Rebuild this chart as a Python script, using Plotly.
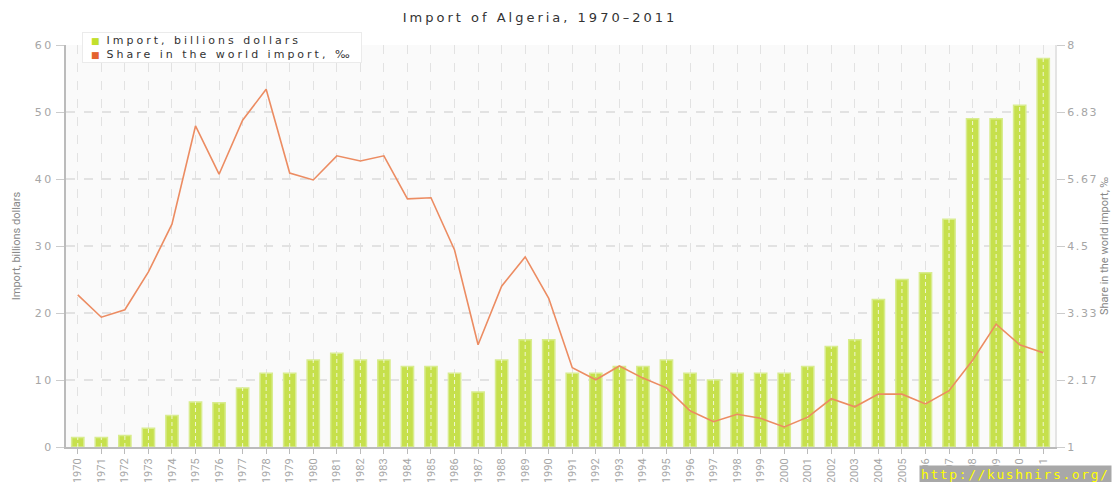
import plotly.graph_objects as go

years = list(range(1970, 2012))
import_bn = [1.4, 1.4, 1.7, 2.8, 4.7, 6.7, 6.6, 8.8, 11, 11,
             13, 14, 13, 13, 12, 12, 11, 8.2, 13, 16,
             16, 11, 11, 12, 12, 13, 11, 10, 11, 11,
             11, 12, 15, 16, 22, 25, 26, 34, 49, 49,
             51, 58]
share_permille = [3.65, 3.26, 3.39, 4.05, 4.88, 6.59, 5.75, 6.69, 7.23, 5.77,
                  5.65, 6.07, 5.98, 6.07, 5.32, 5.34, 4.43, 2.78, 3.80, 4.31,
                  3.59, 2.38, 2.17, 2.41, 2.20, 2.03, 1.63, 1.44, 1.57, 1.50,
                  1.35, 1.52, 1.84, 1.70, 1.92, 1.92, 1.75, 1.98, 2.51, 3.14,
                  2.78, 2.64]
left_ticks = [0, 10, 20, 30, 40, 50, 60]
right_ticks = [1, 2.1667, 3.3333, 4.5, 5.6667, 6.8333, 8]
right_labels = ["1", "2.17", "3.33", "4.5", "5.67", "6.83", "8"]

title_text = "Import of Algeria, 1970–2011"
name_bar = "Import, billions dollars"
name_line = "Share in the world import, ‰"
watermark = "http://kushnirs.org/"


def spaced(s, px):
    return '<span style="letter-spacing:%spx">%s</span>' % (px, s)


GREEN = "#c6e04c"
ORANGE = "#ec8c62"
LEG_GREEN = "#c2e02c"
LEG_ORANGE = "#e4632e"
GRID = "#e2e2e2"
TICKC = "#a6a6a6"
narrow = "Liberation Sans Narrow, Roboto, sans-serif"

# the page body has an 8px default margin on every side, so the figure
# is 16px smaller than the 1120x490 window and sits at (8, 8)
OFF = 8
W, H = 1120 - 2 * OFF, 490 - 2 * OFF
ML, MT = 66 - OFF, 45 - OFF
MR, MB = W - (1055 - OFF), H - (447 - OFF)
PW, PH = W - ML - MR, H - MT - MB

fig = go.Figure()
fig.add_trace(go.Bar(x=years, y=import_bn, name=name_bar, width=0.52,
                     marker=dict(color=GREEN, line=dict(color="#d8ec8e", width=1.5)),
                     showlegend=False, yaxis="y"))
# dashed light centre lines drawn over bars (grid showing through)
gx, gy = [], []
for yr, v in zip(years, import_bn):
    gx += [yr, yr, None]
    gy += [0, v, None]
fig.add_trace(go.Scatter(x=gx, y=gy, mode="lines", hoverinfo="skip",
                         line=dict(color="rgba(255,255,255,0.75)", width=1, dash="4px,3px"),
                         showlegend=False, yaxis="y"))
fig.add_trace(go.Scatter(x=years, y=share_permille, name=name_line, mode="lines",
                         line=dict(color=ORANGE, width=1.6), showlegend=False, yaxis="y2"))

fig.update_layout(
    width=W, height=H,
    margin=dict(l=ML, r=MR, t=MT, b=MB),
    paper_bgcolor="white", plot_bgcolor="#fafafa",
    showlegend=False,
    title=dict(text=spaced(title_text, 3), xref="paper", x=(540 - OFF - ML) / PW, xanchor="center",
               yref="container", y=1 - (17 - OFF) / H, yanchor="middle",
               font=dict(family="DejaVu Sans", size=13, color="#333333")),
    xaxis=dict(range=[1969.5, 2011.5], tickmode="array", tickvals=years,
               ticktext=[str(y) for y in years], tickangle=-90, automargin=False,
               tickfont=dict(family=narrow, size=11, color=TICKC),
               showgrid=True, gridcolor=GRID, griddash="dash", gridwidth=1,
               showline=True, linecolor="#bbbbbb", linewidth=2,
               ticks="outside", ticklen=5, tickcolor="#bbbbbb", zeroline=False),
    yaxis=dict(range=[0, 60], tickmode="array", tickvals=left_ticks, automargin=False,
               ticktext=[spaced(str(t), 2.5) for t in left_ticks],
               tickfont=dict(family="DejaVu Sans", size=11, color=TICKC),
               title=dict(text=name_bar, font=dict(family=narrow, size=11, color="#888888"), standoff=12),
               showgrid=True, gridcolor=GRID, griddash="dash", gridwidth=1.5,
               showline=True, linecolor="#bbbbbb", linewidth=2,
               ticks="outside", ticklen=8, tickcolor="#cccccc", zeroline=False),
    yaxis2=dict(range=[1, 8], tickmode="array", tickvals=right_ticks, automargin=False,
                ticktext=[spaced(t, 1.6) for t in right_labels],
                overlaying="y", side="right",
                tickfont=dict(family="DejaVu Sans", size=11, color=TICKC),
                title=dict(text=name_line, font=dict(family=narrow, size=11, color="#888888"), standoff=3),
                showgrid=False, showline=True, linecolor="#e4e4e4", linewidth=2,
                ticks="outside", ticklen=8, tickcolor="#cccccc", zeroline=False),
)

# legend box (compact, as in the reference)
legend_text = (
    '&nbsp;&nbsp;<span style="color:%s;font-size:9px">■</span>  %s&nbsp;&nbsp;<br>'
    '&nbsp;&nbsp;<span style="color:%s;font-size:9px">■</span>  %s&nbsp;&nbsp;'
    % (LEG_GREEN, spaced(name_bar, 3), LEG_ORANGE, spaced(name_line, 3))
)
fig.add_annotation(text=legend_text, xref="paper", yref="paper",
                   x=(82 - OFF - ML) / PW, y=1 + (45 - 32) / PH, xanchor="left", yanchor="top",
                   align="left", showarrow=False, bgcolor="white",
                   bordercolor="#ebebeb", borderwidth=1, borderpad=1,
                   font=dict(family="DejaVu Sans", size=11, color="#333333"))

fig.add_annotation(text=spaced(watermark, 1.6), xref="paper", yref="paper",
                   x=(W - ML) / PW, y=-(465 - 447) / PH, xanchor="right", yanchor="top",
                   showarrow=False, bgcolor="#a8a8a8", borderpad=1,
                   font=dict(family="DejaVu Sans Mono", size=13, color="#ffff00"))
fig.write_html("out.html")
